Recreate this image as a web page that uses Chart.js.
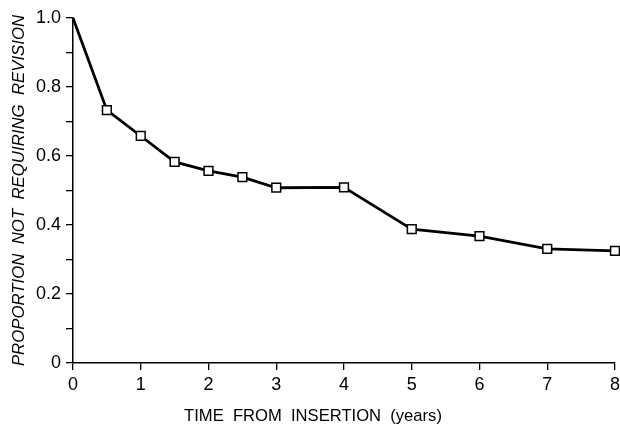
<!DOCTYPE html>
<html>
<head>
<meta charset="utf-8">
<script src="https://cdn.jsdelivr.net/npm/chart.js@4.4.0/dist/chart.umd.min.js"></script>
<style>
  html, body { margin: 0; padding: 0; background: #fff; overflow: hidden; }
  #wrap { width: 624px; height: 426px; position: relative; }
</style>
</head>
<body>
<div id="wrap"><canvas id="survivalChart"></canvas></div>
<script>
// --- data ---
const years = [0, 0.5, 1, 1.5, 2, 2.5, 3, 4, 5, 6, 7, 8];
const proportion = [1.0, 0.733, 0.658, 0.583, 0.557, 0.539, 0.508, 0.509, 0.388, 0.368, 0.331, 0.325];
const xTickLabels = ['0', '1', '2', '3', '4', '5', '6', '7', '8'];
const yTickLabels = ['0', '', '0.2', '', '0.4', '', '0.6', '', '0.8', '', '1.0'];
const xTitle = 'TIME  FROM  INSERTION  (years)';
const yTitle = 'PROPORTION  NOT  REQUIRING  REVISION';

const FONT = "'Liberation Sans', Arial, sans-serif";

// x axis title sits left of centre in the original, so draw it by hand
const xTitlePlugin = {
    id: 'xTitle',
    afterDraw(chart) {
        const ctx = chart.ctx;
        ctx.save();
        ctx.font = '16.6px ' + FONT;
        ctx.fillStyle = '#000';
        ctx.textAlign = 'center';
        ctx.textBaseline = 'middle';
        ctx.fillText(xTitle, 313, 416);
        ctx.restore();
    }
};

const ctx = document.getElementById('survivalChart').getContext('2d');
new Chart(ctx, {
    type: 'line',
    data: {
        datasets: [{
            data: years.map((x, i) => ({ x, y: proportion[i] })),
            borderColor: '#000',
            borderWidth: 2.8,
            tension: 0,
            fill: false,
            clip: false,
            pointStyle: 'rect',
            pointRadius: c => c.dataIndex === 0 ? 0 : 6.2,
            pointBackgroundColor: '#fff',
            pointBorderColor: '#000',
            pointBorderWidth: 1.5
        }]
    },
    options: {
        responsive: true,
        maintainAspectRatio: false,
        animation: false,
        layout: { padding: { left: 0, right: 0, top: 18, bottom: 0 } },
        plugins: { legend: { display: false }, tooltip: { enabled: false } },
        scales: {
            x: {
                type: 'linear',
                min: 0, max: 8,
                border: { display: true, color: '#000', width: 1.5 },
                grid: { drawOnChartArea: false, drawTicks: true, tickLength: 7, color: '#000', lineWidth: 1.3 },
                ticks: {
                    stepSize: 1,
                    padding: 4,
                    color: '#000',
                    font: { family: FONT, size: 18 },
                    maxRotation: 0,
                    callback: (v, i) => xTickLabels[i]
                },
                afterFit: s => { s.height = 63; }
            },
            y: {
                min: 0, max: 1,
                border: { display: true, color: '#000', width: 1.5 },
                grid: { drawOnChartArea: false, drawTicks: true, tickLength: 7, color: '#000', lineWidth: 1.3 },
                ticks: {
                    stepSize: 0.1,
                    padding: 5,
                    color: '#000',
                    font: { family: FONT, size: 18 },
                    callback: (v, i) => yTickLabels[i]
                },
                title: {
                    display: true,
                    text: yTitle,
                    color: '#000',
                    font: { family: FONT, size: 16.8, style: 'italic' },
                    padding: { top: 9, bottom: 0 }
                },
                afterFit: s => { s.width = 73; }
            }
        }
    },
    plugins: [xTitlePlugin]
});
</script>
</body>
</html>
